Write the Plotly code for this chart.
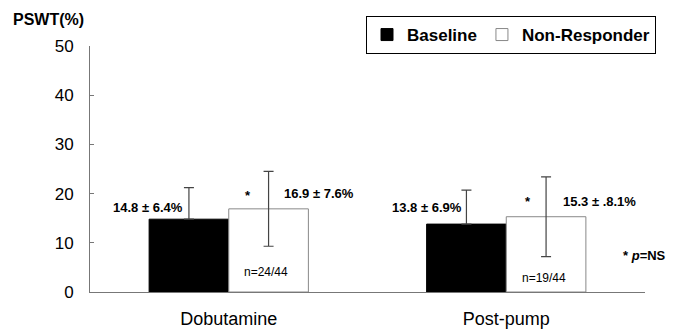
import plotly.graph_objects as go

categories = ["Dobutamine", "Post-pump"]
baseline_mean = [14.8, 13.8]
baseline_sd = [6.4, 6.9]
nonresp_mean = [16.9, 15.3]
nonresp_sd = [7.6, 8.1]
y_ticks = [0, 10, 20, 30, 40, 50]

FONT = "Liberation Sans, Arial, sans-serif"
OFF = 8  # page body margin of the browser
W, H = 678 - OFF, 335 - OFF
L, R, T, B = 90 - OFF, 33, 46 - OFF, 43
PW, PH = W - L - R, H - T - B


def px_x(px):
    return (px - OFF - L) / PW


def px_y(py):
    return (H - B - (py - OFF)) / PH


fig = go.Figure()
fig.add_trace(go.Bar(
    name="<b>Baseline</b>", x=categories, y=baseline_mean,
    marker=dict(color="black", line=dict(color="black", width=1)),
    error_y=dict(type="data", symmetric=False, array=baseline_sd,
                 arrayminus=[0, 0], color="#444", thickness=1.2, width=5),
))
fig.add_trace(go.Bar(
    name="<b>Non-Responder</b>", x=categories, y=nonresp_mean,
    marker=dict(color="white", line=dict(color="#888", width=1)),
    error_y=dict(type="data", array=nonresp_sd, color="#444",
                 thickness=1.2, width=5),
))

bold = dict(family=FONT, size=13, color="black")
norm = dict(family=FONT, size=12, color="black")
ann = [
    (-0.29, 17.1, "<b>14.8 ± 6.4%</b>", bold),
    (0.068, 19.7, "<b>*</b>", bold),
    (0.324, 20.1, "<b>16.9 ± 7.6%</b>", bold),
    (0.133, 4.1, "n=24/44", norm),
    (0.714, 17.1, "<b>13.8 ± 6.9%</b>", bold),
    (1.077, 18.3, "<b>*</b>", bold),
    (1.335, 18.3, "<b>15.3 ± .8.1%</b>", bold),
    (1.135, 2.85, "n=19/44", norm),
]
for x, y, t, f in ann:
    fig.add_annotation(x=x, y=y, xref="x", yref="y", text=t, showarrow=False,
                       font=f, xanchor="center", yanchor="middle")

fig.add_annotation(x=px_x(668), y=px_y(255), xref="paper", yref="paper",
                   text="<b>* <i>p</i>=NS</b>", showarrow=False, font=bold,
                   xanchor="right", yanchor="middle")
fig.add_annotation(x=px_x(11), y=px_y(9), xref="paper", yref="paper",
                   text="<b>PSWT(%)</b>", showarrow=False,
                   font=dict(family=FONT, size=16, color="black"),
                   xanchor="left", yanchor="top")

fig.update_layout(
    width=W, height=H,
    margin=dict(l=L, r=R, t=T, b=B, autoexpand=False),
    paper_bgcolor="white", plot_bgcolor="white",
    barmode="group", bargap=0.426, bargroupgap=0,
    font=dict(family=FONT, color="black"),
    showlegend=True,
    legend=dict(orientation="h", x=(656 - OFF) / W, y=1 - (16 - OFF) / H,
                xref="container", yref="container",
                xanchor="right", yanchor="top", bordercolor="black", borderwidth=1,
                font=dict(family=FONT, size=17, color="black"),
                itemwidth=30, tracegroupgap=0),
    xaxis=dict(range=[-0.5, 1.5], showline=True, linecolor="#777", linewidth=1,
               ticks="", showgrid=False, zeroline=False, automargin=False,
               tickfont=dict(family=FONT, size=18, color="black"),
               ticklabelstandoff=10),
    yaxis=dict(range=[0, 50], tickvals=y_ticks, showline=True, linecolor="#777",
               linewidth=1, ticks="inside", ticklen=4, tickcolor="#777",
               showgrid=False, zeroline=False, automargin=False,
               tickfont=dict(family=FONT, size=17, color="black"),
               ticklabelstandoff=12),
)

fig.write_html("out.html")
